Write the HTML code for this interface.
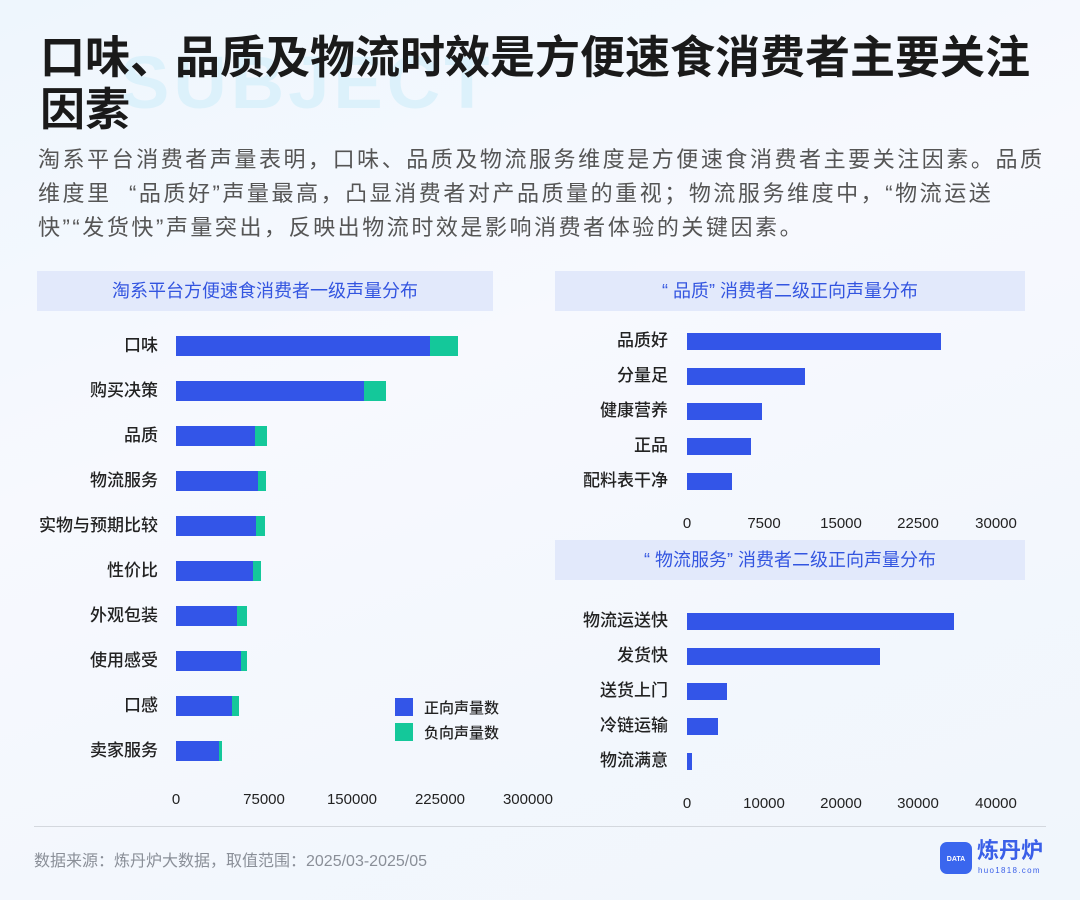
<!DOCTYPE html>
<html><head><meta charset="utf-8"><style>
*{margin:0;padding:0;box-sizing:border-box}
body{width:1080px;height:900px;overflow:hidden;position:relative;font-family:"Liberation Sans","Noto Sans CJK SC",sans-serif;background:linear-gradient(160deg,#eef6fd 0%,#f7f9fe 40%,#f3f7fd 70%,#f0f6fc 100%)}
.a{position:absolute;white-space:nowrap}
.sub{left:120px;top:40px;font-size:74px;font-weight:bold;color:#dcf1fb;letter-spacing:4px}
.t{left:40px;font-size:45px;font-weight:bold;color:#1a1a1a;line-height:50px}
.p{left:38px;font-size:22px;color:#555;letter-spacing:2.55px;line-height:34px}
.box{background:#e2e9fb;height:40px;color:#3355e0;font-size:18px;text-align:center;line-height:40px}
.lab{font-size:17px;color:#222;text-align:right;width:150px;line-height:20px;font-weight:500}
.bar{background:#3355e8;height:20px}
.g{background:#14c89a;height:20px}
.tk{font-size:15px;color:#222;transform:translateX(-50%);font-weight:500}
</style></head><body>
<div class="a sub">SUBJECT</div>
<div class="a t" style="top:33px">口味、品质及物流时效是方便速食消费者主要关注</div>
<div class="a t" style="top:85px">因素</div>
<div class="a p" style="top:143px">淘系平台消费者声量表明，口味、品质及物流服务维度是方便速食消费者主要关注因素。品质</div>
<div class="a p" style="top:177px">维度里&nbsp;&nbsp;“品质好”声量最高，凸显消费者对产品质量的重视；物流服务维度中，“物流运送</div>
<div class="a p" style="top:211px">快”“发货快”声量突出，反映出物流时效是影响消费者体验的关键因素。</div>

<div class="a box" style="left:37px;top:271px;width:456px">淘系平台方便速食消费者一级声量分布</div>
<div class="a box" style="left:555px;top:271px;width:470px">“ 品质” 消费者二级正向声量分布</div>
<div class="a box" style="left:555px;top:540px;width:470px">“ 物流服务” 消费者二级正向声量分布</div>

<div class="a lab" style="left:8px;top:336px">口味</div>
<div class="a bar" style="left:176px;top:336px;width:254px"></div><div class="a g" style="left:430px;top:336px;width:28px"></div>
<div class="a lab" style="left:8px;top:381px">购买决策</div>
<div class="a bar" style="left:176px;top:381px;width:188px"></div><div class="a g" style="left:364px;top:381px;width:22px"></div>
<div class="a lab" style="left:8px;top:426px">品质</div>
<div class="a bar" style="left:176px;top:426px;width:79px"></div><div class="a g" style="left:255px;top:426px;width:12px"></div>
<div class="a lab" style="left:8px;top:471px">物流服务</div>
<div class="a bar" style="left:176px;top:471px;width:82px"></div><div class="a g" style="left:258px;top:471px;width:8px"></div>
<div class="a lab" style="left:8px;top:516px">实物与预期比较</div>
<div class="a bar" style="left:176px;top:516px;width:80px"></div><div class="a g" style="left:256px;top:516px;width:9px"></div>
<div class="a lab" style="left:8px;top:561px">性价比</div>
<div class="a bar" style="left:176px;top:561px;width:77px"></div><div class="a g" style="left:253px;top:561px;width:8px"></div>
<div class="a lab" style="left:8px;top:606px">外观包装</div>
<div class="a bar" style="left:176px;top:606px;width:61px"></div><div class="a g" style="left:237px;top:606px;width:10px"></div>
<div class="a lab" style="left:8px;top:651px">使用感受</div>
<div class="a bar" style="left:176px;top:651px;width:65px"></div><div class="a g" style="left:241px;top:651px;width:6px"></div>
<div class="a lab" style="left:8px;top:696px">口感</div>
<div class="a bar" style="left:176px;top:696px;width:56px"></div><div class="a g" style="left:232px;top:696px;width:7px"></div>
<div class="a lab" style="left:8px;top:741px">卖家服务</div>
<div class="a bar" style="left:176px;top:741px;width:43px"></div><div class="a g" style="left:219px;top:741px;width:3px"></div>
<div class="a" style="left:395px;top:698px;width:18px;height:18px;background:#3355e8"></div>
<div class="a" style="left:395px;top:723px;width:18px;height:18px;background:#14c89a"></div>
<div class="a" style="left:424px;top:697px;font-size:15px;color:#222;font-weight:500">正向声量数</div>
<div class="a" style="left:424px;top:722px;font-size:15px;color:#222;font-weight:500">负向声量数</div>
<div class="a tk" style="left:176px;top:791px">0</div>
<div class="a tk" style="left:264px;top:791px">75000</div>
<div class="a tk" style="left:352px;top:791px">150000</div>
<div class="a tk" style="left:440px;top:791px">225000</div>
<div class="a tk" style="left:528px;top:791px">300000</div>

<div class="a lab" style="left:518px;top:331px">品质好</div><div class="a bar" style="left:687px;top:333px;width:254px;height:17px"></div>
<div class="a lab" style="left:518px;top:366px">分量足</div><div class="a bar" style="left:687px;top:368px;width:118px;height:17px"></div>
<div class="a lab" style="left:518px;top:401px">健康营养</div><div class="a bar" style="left:687px;top:403px;width:75px;height:17px"></div>
<div class="a lab" style="left:518px;top:436px">正品</div><div class="a bar" style="left:687px;top:438px;width:64px;height:17px"></div>
<div class="a lab" style="left:518px;top:471px">配料表干净</div><div class="a bar" style="left:687px;top:473px;width:45px;height:17px"></div>
<div class="a tk" style="left:687px;top:515px">0</div>
<div class="a tk" style="left:764px;top:515px">7500</div>
<div class="a tk" style="left:841px;top:515px">15000</div>
<div class="a tk" style="left:918px;top:515px">22500</div>
<div class="a tk" style="left:996px;top:515px">30000</div>

<div class="a lab" style="left:518px;top:611px">物流运送快</div><div class="a bar" style="left:687px;top:613px;width:267px;height:17px"></div>
<div class="a lab" style="left:518px;top:646px">发货快</div><div class="a bar" style="left:687px;top:648px;width:193px;height:17px"></div>
<div class="a lab" style="left:518px;top:681px">送货上门</div><div class="a bar" style="left:687px;top:683px;width:40px;height:17px"></div>
<div class="a lab" style="left:518px;top:716px">冷链运输</div><div class="a bar" style="left:687px;top:718px;width:31px;height:17px"></div>
<div class="a lab" style="left:518px;top:751px">物流满意</div><div class="a bar" style="left:687px;top:753px;width:5px;height:17px"></div>
<div class="a tk" style="left:687px;top:795px">0</div>
<div class="a tk" style="left:764px;top:795px">10000</div>
<div class="a tk" style="left:841px;top:795px">20000</div>
<div class="a tk" style="left:918px;top:795px">30000</div>
<div class="a tk" style="left:996px;top:795px">40000</div>

<div class="a" style="left:34px;top:826px;width:1012px;height:1px;background:#d4d8de"></div>
<div class="a" style="left:34px;top:847px;font-size:16px;color:#8a8f98">数据来源：炼丹炉大数据，取值范围：2025/03-2025/05</div>
<div class="a" style="left:940px;top:842px;width:32px;height:32px;border-radius:7px;background:#3a66ee;color:#fff;font-size:7px;font-weight:bold;text-align:center;line-height:36px">DATA</div>
<div class="a" style="left:977px;top:838px;font-size:22px;font-weight:bold;color:#3a5fe8;line-height:26px">炼丹炉</div>
<div class="a" style="left:978px;top:866px;font-size:8px;color:#3a5fe8;letter-spacing:1.3px">huo1818.com</div>
</body></html>
